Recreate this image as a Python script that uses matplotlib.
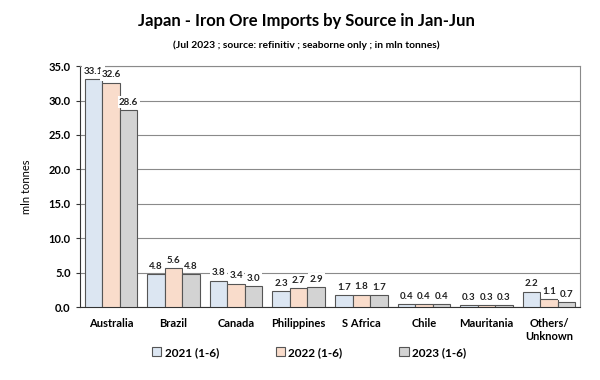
import matplotlib
matplotlib.use("Agg")
import matplotlib.pyplot as plt
import numpy as np

categories = ["Australia", "Brazil", "Canada", "Philippines", "S Africa", "Chile", "Mauritania", "Others/\nUnknown"]
series_names = ["2021 (1-6)", "2022 (1-6)", "2023 (1-6)"]
v2021 = [33.1, 4.8, 3.8, 2.3, 1.7, 0.4, 0.3, 2.2]
v2022 = [32.6, 5.6, 3.4, 2.7, 1.8, 0.4, 0.3, 1.1]
v2023 = [28.6, 4.8, 3.0, 2.9, 1.7, 0.4, 0.3, 0.7]
yticks = [0, 5, 10, 15, 20, 25, 30, 35]

plt.rcParams['font.family'] = ['Lato', 'DejaVu Sans']
colors = ["#dce6f2", "#f9dccb", "#d3d3d3"]

fig = plt.figure(figsize=(6, 3.8), dpi=100)
ax = fig.add_axes([0.133, 0.192, 0.834, 0.634])

x = np.arange(len(categories))
w = 0.28
for i, (vals, c, name) in enumerate(zip([v2021, v2022, v2023], colors, series_names)):
    pos = x + (i - 1) * w
    ax.bar(pos, vals, w, color=c, edgecolor="#555555", linewidth=0.8, label=name, zorder=3)
    for p, v in zip(pos, vals):
        ax.text(p, v + 0.5, f"{v:.1f}", ha="center", va="bottom", fontsize=7, fontweight="bold",
                color="#222222", zorder=4,
                bbox=dict(boxstyle="square,pad=0.15", fc="white", ec="none"))

ax.set_ylim(0, 35)
ax.set_xlim(-0.5, len(categories) - 0.5)
ax.set_yticks(yticks)
ax.set_yticklabels([f"{t:.1f}" for t in yticks], fontsize=8, fontweight="bold")
ax.set_xticks(x)
ax.set_xticklabels(categories, fontsize=8, fontweight="bold")
ax.tick_params(axis="x", length=0, pad=8)
ax.tick_params(axis="y", direction="out", length=3, color="#333333")
ax.yaxis.grid(True, color="#8a8a8a", linewidth=0.8, zorder=0)
ax.set_axisbelow(True)
for s in ["top", "right"]:
    ax.spines[s].set_color("#8a8a8a")
    ax.spines[s].set_linewidth(0.8)
ax.spines["left"].set_color("#333333")
ax.spines["bottom"].set_color("#333333")
ax.set_ylabel("mln tonnes", fontsize=8, labelpad=12)

fig.text(0.51, 0.945, "Japan - Iron Ore Imports by Source in Jan-Jun", ha="center", va="center",
         fontsize=12, fontweight="bold")
fig.text(0.51, 0.88, "(Jul 2023 ; source: refinitiv ; seaborne only ; in mln tonnes)", ha="center",
         va="center", fontsize=7.4, fontweight="bold")

fig.legend(loc="center", bbox_to_anchor=(0.515, 0.073), ncol=3, frameon=False,
           prop={"weight": "bold", "size": 8.5}, handlelength=0.8, handleheight=0.8,
           columnspacing=4.8, handletextpad=0.3)

fig.savefig("out.png", dpi=100)
